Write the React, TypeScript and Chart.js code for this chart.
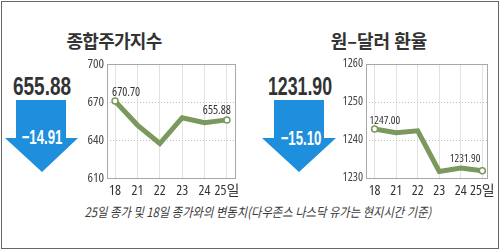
import React, { useEffect, useRef } from "react";
import { Chart, registerables } from "chart.js";

Chart.register(...registerables);

// ---- data ----
const dayLabels = ["18", "21", "22", "23", "24", "25일"];
const kospiValues = [670.7, 651.8, 637.2, 657.6, 653.7, 655.88];
const kospiTicks = [610, 640, 670, 700];
const kospiEndLabels = ["670.70", "655.88"];
const fxValues = [1242.9, 1241.9, 1242.4, 1231.7, 1232.6, 1231.9];
const fxTicks = [1230, 1240, 1250, 1260];
const fxEndLabels = ["1247.00", "1231.90"];
const kospiTitle = "종합주가지수";
const fxTitle = "원–달러 환율";
const kospiClose = "655.88";
const kospiChange = "−14.91";
const fxClose = "1231.90";
const fxChange = "−15.10";
const footnote = "25일 종가 및 18일 종가와의 변동치(다우존스 나스닥 유가는 현지시간 기준)";

const SANS = "'Liberation Sans', Arial, sans-serif";
const COND = "'Open Sans', 'Noto Sans CJK KR', sans-serif";
const KR = "'Noto Sans CJK KR', sans-serif";
const GREEN = "#7b985d";
const BLUE = "#1e8fdc";

type Cfg = {
  values: number[];
  ticks: number[];
  endLabels: string[];
  xMin: number;
  xMax: number;
  yWidth: number;
  padRight: number;
  tickFont: number;
  labelFont: number;
  firstOff: [number, number];
  lastOff: [number, number];
};

function LineBox(props: { cfg: Cfg; left: number; width: number }) {
  const ref = useRef<HTMLCanvasElement>(null);
  const { cfg } = props;
  useEffect(() => {
    const canvas = ref.current!;
    const framePlugin = {
      id: "frame",
      afterDraw(chart: any) {
        const { ctx, chartArea: a } = chart;
        ctx.save();
        ctx.strokeStyle = "#a8a8a8";
        ctx.lineWidth = 1;
        ctx.strokeRect(Math.round(a.left) + 0.5, Math.round(a.top) + 0.5, Math.round(a.right - a.left), Math.round(a.bottom - a.top));
        ctx.restore();
      },
      afterDatasetsDraw(chart: any) {
        const { ctx } = chart;
        const pts = chart.getDatasetMeta(0).data;
        const first = pts[0];
        const last = pts[pts.length - 1];
        ctx.save();
        ctx.fillStyle = "#333";
        ctx.font = `condensed ${cfg.labelFont}px ${COND}`;
        ctx.textBaseline = "middle";
        ctx.textAlign = "left";
        ctx.fillText(cfg.endLabels[0], first.x + cfg.firstOff[0], first.y + cfg.firstOff[1]);
        ctx.textAlign = "right";
        ctx.fillText(cfg.endLabels[1], last.x + cfg.lastOff[0], last.y + cfg.lastOff[1]);
        ctx.restore();
      },
    };
    const n = cfg.values.length;
    const chart = new Chart(canvas, {
      type: "line",
      data: {
        datasets: [
          {
            data: cfg.values.map((v, i) => ({ x: i, y: v })),
            borderColor: GREEN,
            borderWidth: 5,
            borderJoinStyle: "miter",
            tension: 0,
            pointRadius: cfg.values.map((_, i) => (i === 0 || i === n - 1 ? 3 : 0)),
            pointBackgroundColor: "#ffffff",
            pointBorderColor: GREEN,
            pointBorderWidth: 1.5,
          } as any,
        ],
      },
      options: {
        animation: false,
        responsive: false,
        events: [],
        layout: { padding: { top: 14, right: cfg.padRight, left: 0, bottom: 0 } },
        plugins: { legend: { display: false }, tooltip: { enabled: false } },
        scales: {
          x: {
            type: "linear",
            min: cfg.xMin,
            max: cfg.xMax,
            afterBuildTicks: (s: any) => {
              s.ticks = dayLabels.map((_, i) => ({ value: i }));
            },
            afterFit: (s: any) => {
              s.height = 22;
            },
            border: { display: false },
            grid: { color: "#e2e2e2", lineWidth: 1, drawTicks: false },
            ticks: {
              padding: 5,
              color: "#333",
              font: { family: COND, size: 14, weight: "condensed" },
              callback: (v: any) => dayLabels[v] ?? "",
              maxRotation: 0,
              autoSkip: false,
            },
          },
          y: {
            type: "linear",
            min: cfg.ticks[0],
            max: cfg.ticks[cfg.ticks.length - 1],
            afterBuildTicks: (s: any) => {
              s.ticks = cfg.ticks.map((v) => ({ value: v }));
            },
            afterFit: (s: any) => {
              s.width = cfg.yWidth;
            },
            border: { display: false, dash: [1, 2] },
            grid: { color: "#bdbdbd", lineWidth: 1, drawTicks: false },
            ticks: {
              padding: 3,
              color: "#444",
              font: { family: COND, size: cfg.tickFont, weight: "condensed" },
              callback: (v: any) => String(v),
            },
          },
        },
      } as any,
      plugins: [framePlugin],
    });
    return () => chart.destroy();
  }, []);
  return (
    <canvas
      ref={ref}
      width={props.width}
      height={150}
      style={{ position: "absolute", left: props.left, top: 50, width: props.width, height: 150 }}
    />
  );
}

function Txt(props: { x: number; y: number; sx?: number; style: React.CSSProperties; children: React.ReactNode }) {
  const sx = props.sx ?? 1;
  return (
    <div
      style={{
        position: "absolute",
        left: props.x,
        top: props.y,
        transform: `translate(-50%, -50%) scaleX(${sx})`,
        whiteSpace: "nowrap",
        lineHeight: 1,
        ...props.style,
      }}
    >
      {props.children}
    </div>
  );
}

function Arrow(props: { left: number; top: number; w: number; h: number; shaftL: number; shaftR: number; headTop: number; tipX: number }) {
  const { w, h, shaftL, shaftR, headTop, tipX } = props;
  const poly = `polygon(${shaftL}px 0px, ${shaftR}px 0px, ${shaftR}px ${headTop}px, ${w}px ${headTop}px, ${tipX}px ${h}px, 0px ${headTop}px, ${shaftL}px ${headTop}px)`;
  return (
    <div
      style={{
        position: "absolute",
        left: props.left,
        top: props.top,
        width: w,
        height: h,
        background: BLUE,
        clipPath: poly,
      }}
    />
  );
}

export default function App() {
  useEffect(() => {
    document.body.style.margin = "0";
  }, []);
  const kospiCfg: Cfg = {
    values: kospiValues,
    ticks: kospiTicks,
    endLabels: kospiEndLabels,
    xMin: -0.36,
    xMax: 5.36,
    yWidth: 27,
    padRight: 10,
    tickFont: 13,
    labelFont: 12,
    firstOff: [-3, -9],
    lastOff: [4, -9],
  };
  const fxCfg: Cfg = {
    values: fxValues,
    ticks: fxTicks,
    endLabels: fxEndLabels,
    xMin: -0.4,
    xMax: 5.22,
    yWidth: 30,
    padRight: 7,
    tickFont: 12,
    labelFont: 11,
    firstOff: [-5, -8],
    lastOff: [-2, -12],
  };
  const bigNum: React.CSSProperties = { fontFamily: SANS, fontWeight: 700, fontSize: 25, color: "#333" };
  const arrowTxt: React.CSSProperties = { fontFamily: SANS, fontWeight: 700, fontSize: 20, color: "#fff" };
  const title: React.CSSProperties = { fontFamily: KR, fontWeight: 700, fontSize: 18, color: "#333" };
  return (
    <div style={{ position: "relative", width: 500, height: 250, background: "#fff", overflow: "hidden" }}>
      <div style={{ position: "absolute", left: 1, top: 1, width: 498, height: 248, boxSizing: "border-box", border: "1px solid #666" }} />
      <Txt x={114} y={40} style={{ ...title, letterSpacing: -0.7 }}>{kospiTitle}</Txt>
      <Txt x={379} y={40} style={title}>{fxTitle}</Txt>
      <Txt x={42} y={86} sx={0.76} style={bigNum}>{kospiClose}</Txt>
      <Txt x={300} y={86} sx={0.71} style={bigNum}>{fxClose}</Txt>
      <Arrow left={5} top={100} w={73} h={72} shaftL={11} shaftR={61} headTop={38} tipX={37} />
      <Arrow left={262} top={100} w={74} h={72} shaftL={12} shaftR={62} headTop={38} tipX={37} />
      <Txt x={42} y={137} sx={0.66} style={arrowTxt}>{kospiChange}</Txt>
      <Txt x={301} y={138} sx={0.66} style={arrowTxt}>{fxChange}</Txt>
      <LineBox cfg={kospiCfg} left={80} width={165} />
      <LineBox cfg={fxCfg} left={336} width={164} />
      <Txt x={258} y={211} sx={0.87} style={{ fontFamily: KR, fontStyle: "italic", fontSize: 13, color: "#3a3a3a" }}>
        {footnote}
      </Txt>
    </div>
  );
}
